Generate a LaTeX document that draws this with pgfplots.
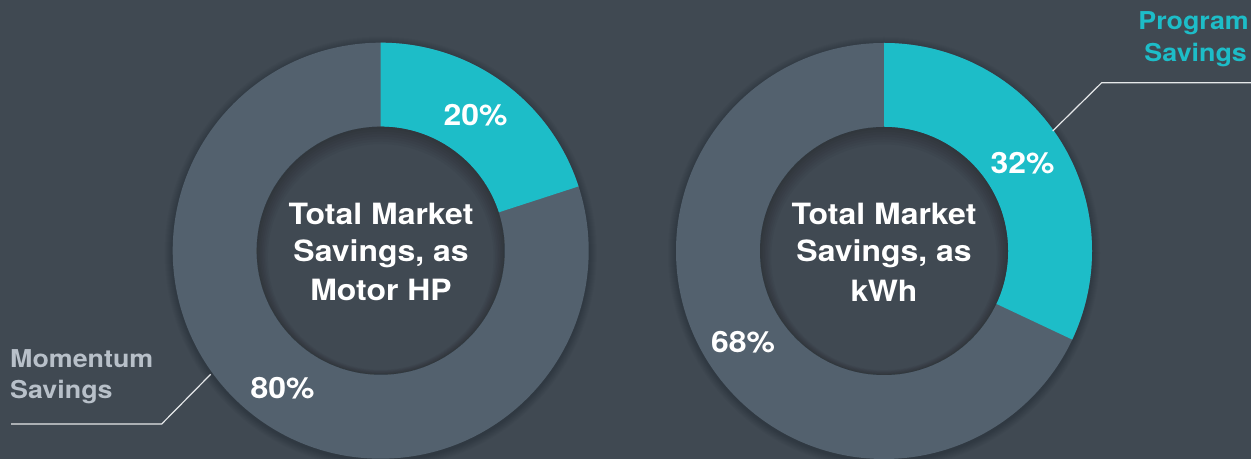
\documentclass[border=0pt]{standalone}
\usepackage{pgfplots}
\pgfplotsset{compat=1.18}
\usepackage{pgfplotstable}
\usepackage{fontspec}
\setmainfont{TeX Gyre Heros}[FakeStretch=1.09]
\definecolor{bg}{HTML}{404952}
\definecolor{ring}{HTML}{53616E}
\definecolor{prog}{HTML}{1DBDC8}
\definecolor{momlbl}{HTML}{B8C0C9}
\definecolor{lead}{HTML}{E6E8EA}

\pgfplotstableread{
chart cx cy program momentum
HP 380.7 208.3 20 80
kWh 884 208 32 68
}\savings

\newcommand\ctrfont{\bfseries\fontsize{29.4}{36}\selectfont}
\newcommand\pctfont{\bfseries\fontsize{29.4}{36}\selectfont}
\newcommand\sidefont{\bfseries\fontsize{24.7}{32}\selectfont}

% cx, cy, end angle of the program segment
\newcommand\donut[3]{%
  \pgfplotsinvokeforeach{1,...,8}{%
    \fill[black,opacity=0.025] (axis cs:#1,#2-2) circle[radius=208bp+##1 bp];}
  \fill[ring] (axis cs:#1,#2) circle[radius=208bp];
  \fill[prog] (axis cs:#1,#2) ++(90:208bp) arc[start angle=90,end angle=#3,radius=208bp]
     -- ++(#3:-84bp) arc[start angle=#3,end angle=90,radius=124bp] -- cycle;
  \fill[bg] (axis cs:#1,#2) circle[radius=124bp];
  \pgfplotsinvokeforeach{1,...,7}{%
    \fill[black,opacity=0.03,even odd rule] (axis cs:#1,#2) circle[radius=124bp]
       (axis cs:#1,#2-0.9*##1) circle[radius=124bp-1.6*##1 bp];}
}

\begin{document}
\begin{tikzpicture}
\pgfplotstablegetelem{0}{program}\of\savings\edef\pA{\pgfplotsretval}
\pgfplotstablegetelem{0}{momentum}\of\savings\edef\mA{\pgfplotsretval}
\pgfplotstablegetelem{1}{program}\of\savings\edef\pB{\pgfplotsretval}
\pgfplotstablegetelem{1}{momentum}\of\savings\edef\mB{\pgfplotsretval}
\pgfmathsetmacro\eA{90-3.6*\pA}
\pgfmathsetmacro\eB{90-3.6*\pB}
\begin{axis}[x=1bp,y=1bp,xmin=0,xmax=1251,ymin=0,ymax=459,
  hide axis,clip=false,scale only axis]
\fill[bg] (axis cs:0,0) rectangle (axis cs:1251,459);
\donut{380.7}{208.3}{\eA}
\donut{884}{208}{\eB}

% leader lines
\addplot[lead,line width=1.2pt,mark=none] coordinates {(11,35) (161.7,35) (210.7,84.7)};
\addplot[lead,line width=1.2pt,mark=none] coordinates {(1052.7,328) (1101.7,376.3) (1251,376.3)};

% centre texts
\node[anchor=base,text=white,font=\ctrfont,inner sep=0] at (axis cs:381,234.7) {Total Market};
\node[anchor=base,text=white,font=\ctrfont,inner sep=0] at (axis cs:381,197.3) {Savings, as};
\node[anchor=base,text=white,font=\ctrfont,inner sep=0] at (axis cs:381,158.3) {Motor HP};
\node[anchor=base,text=white,font=\ctrfont,inner sep=0] at (axis cs:884,234.7) {Total Market};
\node[anchor=base,text=white,font=\ctrfont,inner sep=0] at (axis cs:884,197.3) {Savings, as};
\node[anchor=base,text=white,font=\ctrfont,inner sep=0] at (axis cs:884,157.3) {kWh};

% percentages
\node[anchor=base,text=white,font=\pctfont,inner sep=0] at (axis cs:475.5,333) {\pA\%};
\node[anchor=base,text=white,font=\pctfont,inner sep=0] at (axis cs:282.5,60.7) {\mA\%};
\node[anchor=base,text=white,font=\pctfont,inner sep=0] at (axis cs:1022.5,285.7) {\pB\%};
\node[anchor=base,text=white,font=\pctfont,inner sep=0] at (axis cs:743,106.7) {\mB\%};

% side labels
\node[anchor=base west,text=momlbl,font=\sidefont,inner sep=0] at (axis cs:10,91.3) {Momentum};
\node[anchor=base west,text=momlbl,font=\sidefont,inner sep=0] at (axis cs:10,60) {Savings};
\node[anchor=base east,text=prog,font=\sidefont,inner sep=0] at (axis cs:1249,429.7) {Program};
\node[anchor=base east,text=prog,font=\sidefont,inner sep=0] at (axis cs:1247,397.3) {Savings};
\end{axis}
\pgfresetboundingbox
\path (current axis.south west) rectangle (current axis.north east);
\end{tikzpicture}
\end{document}
